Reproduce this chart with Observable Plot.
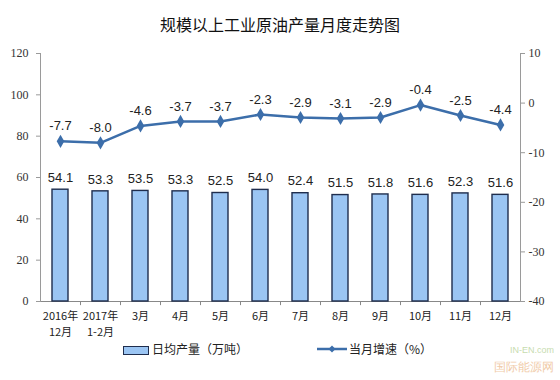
<!DOCTYPE html>
<html><head><meta charset="utf-8">
<script src="https://cdn.jsdelivr.net/npm/d3@7"></script>
<script src="https://cdn.jsdelivr.net/npm/@observablehq/plot@0.6"></script>
<style>
body{margin:0;background:#fff;}
#wrap{position:relative;width:560px;height:380px;overflow:hidden;font-family:"Noto Sans CJK SC",sans-serif;}
#title{height:45px;box-sizing:border-box;padding-top:14px;text-align:center;font-size:16px;line-height:20px;color:#111;}
#legend{height:40px;position:relative;font-size:12px;color:#222;}
.sw{position:absolute;top:6px;}
.lt{position:absolute;top:1px;line-height:16px;}
#wm{position:absolute;right:6px;bottom:4px;font-family:"Liberation Sans",sans-serif;opacity:0.45;text-align:right;}
</style></head>
<body><div id="wrap">
<div id="title">规模以上工业原油产量月度走势图</div>
<div id="chart"></div>
<div id="legend">
  <div class="sw" style="left:123px;width:24px;height:7px;background:#9BC5F3;border:1.2px solid #1F2D4D;"></div>
  <div class="lt" style="left:152px;">日均产量（万吨）</div>
  <svg class="sw" style="left:317px;top:3px;" width="30" height="12"><line x1="0" y1="6" x2="30" y2="6" stroke="#3C6EAA" stroke-width="2.5"/><path d="M15,2.5L18.5,6L15,9.5L11.5,6Z" fill="#3C6EAA"/></svg>
  <div class="lt" style="left:349px;">当月增速（%）</div>
</div>
<div id="wm"><span style="font-size:9px;color:#7fb24a;">IN-EN.com</span><br><span style="font-size:12px;color:#e08a3a;">国际能源网</span></div>
</div>
<script>
const categories = ["2016年\n12月","2017年\n1-2月","3月","4月","5月","6月","7月","8月","9月","10月","11月","12月"];
const output = [54.1,53.3,53.5,53.3,52.5,54.0,52.4,51.5,51.8,51.6,52.3,51.6];
const growth = [-7.7,-8.0,-4.6,-3.7,-3.7,-2.3,-2.9,-3.1,-2.9,-0.4,-2.5,-4.4];
const leftTicks = [0,20,40,60,80,100,120];
const rightTicks = [-40,-30,-20,-10,0,10];

// right axis domain [-40,10] mapped onto left domain [0,120]
const toLeft = v => (v + 40) * 120 / 50;
const data = categories.map((c,i)=>({cat:c, output:output[i], growth:growth[i]}));

const numFont = "Liberation Serif";
const chart = Plot.plot({
  width:560, height:295,
  marginTop:8, marginBottom:39, marginLeft:40, marginRight:40,
  style:{fontFamily:"Noto Sans CJK SC", background:"#fff"},
  x:{type:"band", domain:categories, paddingInner:0.6, paddingOuter:0.3},
  y:{domain:[0,120]},
  marks:[
    Plot.ruleY([0], {stroke:"#888", strokeWidth:1}),
    Plot.frame({anchor:"left", stroke:"#9a9a9a"}),
    Plot.frame({anchor:"right", stroke:"#9a9a9a"}),
    Plot.ruleX(categories.slice(1), {x:d=>d, dx:-20, y1:0, y2:-2, stroke:"#888"}),
    Plot.barY(data, {x:"cat", y:"output", fill:"#9BC5F3", stroke:"#1F2D4D", strokeWidth:1.4}),
    Plot.text(data, {x:"cat", y:"output", text:d=>d.output.toFixed(1), dy:-12, fontSize:13, fontFamily:"Liberation Sans", fill:"#222"}),
    Plot.line(data, {x:"cat", y:d=>toLeft(d.growth), stroke:"#3C6EAA", strokeWidth:2.5}),
    Plot.dot(data, {x:"cat", y:d=>toLeft(d.growth), symbol:"diamond", r:4, fill:"#3C6EAA"}),
    Plot.text(data, {x:"cat", y:d=>toLeft(d.growth), text:d=>d.growth.toFixed(1), dy:-15, fontSize:13, fontFamily:"Liberation Sans", fill:"#222"}),
    Plot.axisY({anchor:"left", ticks:leftTicks, tickSize:4, tickPadding:8, label:null, fontSize:12, fontFamily:numFont, color:"#333", stroke:"#9a9a9a"}),
    Plot.axisY({anchor:"right", ticks:rightTicks.map(toLeft), tickSize:4, tickPadding:4, tickFormat:d=>String(Math.round(d*50/120-40)), label:null, fontSize:12, fontFamily:numFont, color:"#333", stroke:"#9a9a9a"}),
    Plot.axisX({tickSize:0, tickPadding:7, label:null, fontSize:11, lineHeight:1.45, color:"#222"})
  ]
});
document.getElementById("chart").appendChild(chart);
</script>
</body></html>
